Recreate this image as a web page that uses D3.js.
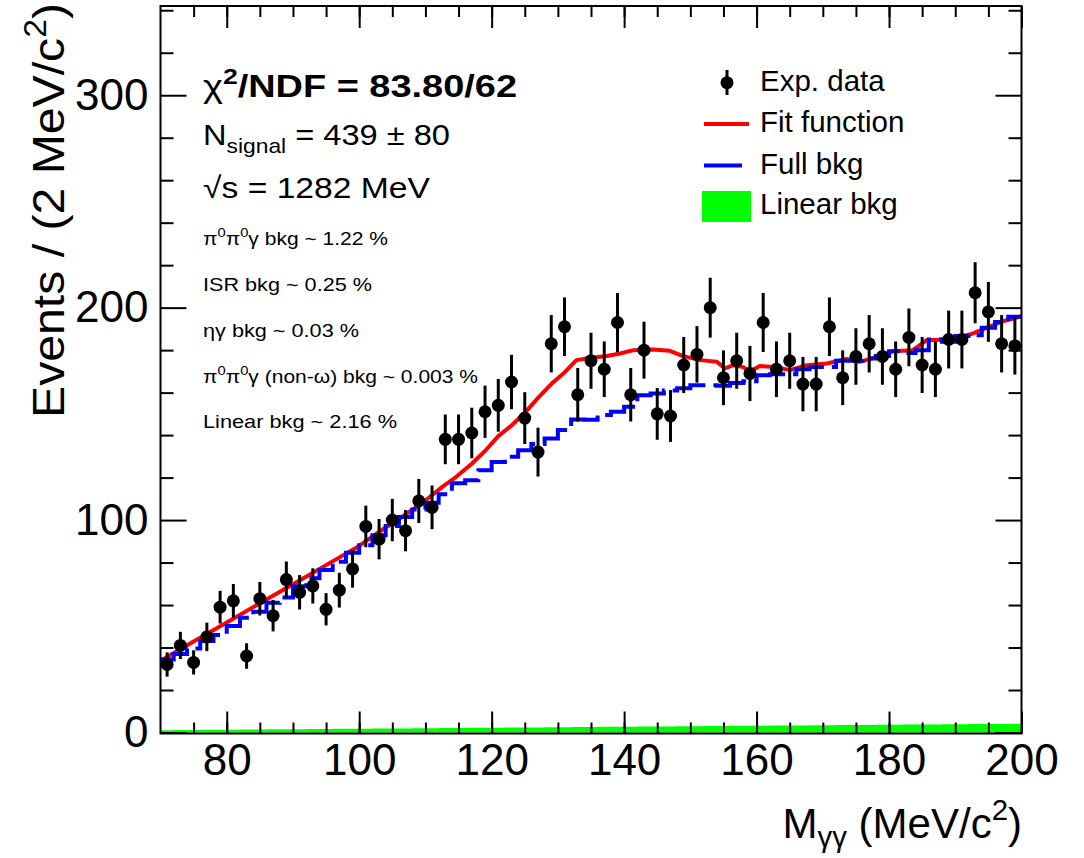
<!DOCTYPE html>
<html><head><meta charset="utf-8">
<script src="https://cdn.jsdelivr.net/npm/d3@7/dist/d3.min.js"></script>
<style>
body{margin:0;background:#fff}
svg{display:block}
text{font-family:"Liberation Sans",Arial,Helvetica,sans-serif;fill:#000}
</style>
</head><body>
<svg id="c" width="1084" height="858"></svg>
<script>
// ---- data (bin centres, 2 MeV bins) ----
const binCenters = [71,73,75,77,79,81,83,85,87,89,91,93,95,97,99,101,103,105,107,109,111,113,115,117,119,121,123,125,127,129,131,133,135,137,139,141,143,145,147,149,151,153,155,157,159,161,163,165,167,169,171,173,175,177,179,181,183,185,187,189,191,193,195,197,199];
const counts = [32,41,33,45,59,62,36,63,55,72,66,69,58,67,77,97,91,100,95,109,106,138,138,141,151,154,165,148,132,183,191,159,175,171,193,159,180,150,149,173,178,200,167,175,169,193,171,175,164,164,191,167,177,183,177,171,186,173,171,185,185,207,198,183,182];
const errors = [5.7,6.4,5.7,6.7,7.7,7.9,6.0,7.9,7.4,8.5,8.1,8.3,7.6,8.2,8.8,9.8,9.5,10.0,9.7,10.4,10.3,11.7,11.7,11.9,12.3,12.4,12.8,12.2,11.5,13.5,13.8,12.6,13.2,13.1,13.9,12.6,13.4,12.2,12.2,13.2,13.3,14.1,12.9,13.2,13.0,13.9,13.1,13.2,12.8,12.8,13.8,12.9,13.3,13.5,13.3,13.1,13.6,13.2,13.1,13.6,13.6,14.4,14.1,13.5,13.5];
const fullBkg = [34.4,36.9,39.6,43.1,45.9,50.1,54.0,56.9,61.1,63.6,68.9,72.6,76.5,80.4,84.6,88.2,92.9,97.2,101.4,105.0,108.2,112.2,117.3,118.8,123.4,127.3,129.8,132.9,135.8,138.4,142.4,147.4,147.2,149.5,151.0,153.3,158.8,159.6,161.0,162.0,163.5,163.5,163.2,164.5,165.4,168.2,168.7,168.7,171.0,172.1,172.1,175.0,175.0,176.1,177.2,179.5,178.7,180.0,185.0,184.0,186.6,187.0,190.5,193.3,195.7];
const linearBkg = [1.10,1.15,1.19,1.24,1.29,1.33,1.38,1.43,1.48,1.52,1.57,1.62,1.66,1.71,1.76,1.80,1.85,1.90,1.94,1.99,2.04,2.08,2.13,2.18,2.23,2.27,2.32,2.37,2.41,2.46,2.51,2.55,2.60,2.65,2.69,2.74,2.79,2.83,2.88,2.93,2.98,3.02,3.07,3.12,3.16,3.21,3.26,3.30,3.35,3.40,3.44,3.49,3.54,3.58,3.63,3.68,3.73,3.77,3.82,3.87,3.91,3.96,4.01,4.05,4.10];
const fitX = [70,75,80,85,90,95,100,103,106,108.7,110.5,112.5,114.7,117,119,121,123,125,127,129,131,132.8,134.8,137.4,139.4,141.4,144.4,146.9,148.9,151.5,154,155.2,156.5,158,159,160.5,162.8,165,167.6,170.6,173.6,175.6,178.6,180.6,183.6,185.7,188.7,190.7,192.7,194.7,197.2,200];
const fitY = [33.8,42.8,51.8,60.8,69.8,78.8,87.8,94.5,100.5,106.3,110.5,115.5,120.5,126.5,132.5,139.5,144.5,150.5,157.5,164,169.5,175.3,176.3,177.2,178.4,180,180.3,179.7,177.2,175.3,174.5,171.4,172.9,172,170,172.5,172.1,170.6,172.9,173.7,175.8,174.5,177.2,179.5,180,184.7,185,186,187.9,190.5,193.6,196];
const binWidth = 2;
const xMajorTicks = [80,100,120,140,160,180,200];
const xMinorTicks = [75,80,85,90,95,100,105,110,115,120,125,130,135,140,145,150,155,160,165,170,175,180,185,190,195];
const yMajorTicks = [0,100,200,300];
const yMinorTicks = [20,40,60,80,120,140,160,180,220,240,260,280,320,340];
const legendLabels = ["Exp. data","Fit function","Full bkg","Linear bkg"];

// ---- layout ----
const L = 160.5, R = 1021.5, T = 6, B = 733.5;
const x = d3.scaleLinear().domain([70,200]).range([L,R]);
const y = d3.scaleLinear().domain([0,342]).range([732.5,T]);
const svg = d3.select("#c");

// helper for rich text
function rich(g, px, py, parts, size, opts={}) {
  const t = g.append("text").attr("x",px).attr("y",py).attr("font-size",size);
  if (opts.weight) t.attr("font-weight",opts.weight);
  if (opts.anchor) t.attr("text-anchor",opts.anchor);
  if (opts.len) t.attr("textLength",opts.len).attr("lengthAdjust","spacingAndGlyphs");
  if (opts.transform) t.attr("transform",opts.transform);
  let shift = 0;
  parts.forEach(p => {
    const s = t.append("tspan").text(p.t);
    let target = 0;
    if (p.sup) { target = -0.42*size; s.attr("font-size", size*0.7); }
    if (p.sub) { target = (opts.subShift||0.28)*size; s.attr("font-size", size*0.7); }
    if (target !== shift) { s.attr("dy", target - shift); shift = target; }
    if (p.weight) s.attr("font-weight", p.weight);
  });
  return t;
}

// green linear background
const edgesX = binCenters.map(c => c - binWidth/2).concat([200]);
const stepVals = (arr) => arr.concat([arr[arr.length-1]]);
const linVals = stepVals(linearBkg);
svg.append("path")
  .attr("d", d3.area().x((d,i)=>x(edgesX[i])).y0(y(0)).y1(d=>y(d)).curve(d3.curveStepAfter)(linVals))
  .attr("fill","#00ff00").attr("stroke","none");

// red fit
svg.append("path")
  .attr("d", d3.line().x((d,i)=>x(fitX[i])).y(d=>y(d))(fitY))
  .attr("fill","none").attr("stroke","#ff0000").attr("stroke-width",4).attr("stroke-linejoin","round");

// blue full bkg (dashed step histogram)
const bkgVals = stepVals(fullBkg);
svg.append("path")
  .attr("d", d3.line().x((d,i)=>x(edgesX[i])).y(d=>y(d)).curve(d3.curveStepAfter)(bkgVals))
  .attr("fill","none").attr("stroke","#0000ff").attr("stroke-width",4).attr("stroke-dasharray","38,8");

// data points
const pts = svg.append("g");
pts.selectAll("line").data(counts).join("line")
  .attr("x1",(d,i)=>x(binCenters[i])).attr("x2",(d,i)=>x(binCenters[i]))
  .attr("y1",(d,i)=>y(d-errors[i])).attr("y2",(d,i)=>y(d+errors[i]))
  .attr("stroke","#000").attr("stroke-width",3);
pts.selectAll("circle").data(counts).join("circle")
  .attr("cx",(d,i)=>x(binCenters[i])).attr("cy",d=>y(d)).attr("r",6.5).attr("fill","#000");

// frame + axes
function styleAxis(g){ g.select(".domain").remove(); g.selectAll(".tick line").attr("stroke","#000").attr("stroke-width",2); }
svg.append("g").attr("transform",`translate(0,${B})`)
  .call(d3.axisBottom(x).tickValues(xMinorTicks).tickSize(-11).tickFormat(""))
  .call(styleAxis);
svg.append("g").attr("transform",`translate(0,${T})`)
  .call(d3.axisTop(x).tickValues(xMinorTicks).tickSize(-11).tickFormat(""))
  .call(styleAxis);
svg.append("g").attr("transform",`translate(0,${T})`)
  .call(d3.axisTop(x).tickValues(xMajorTicks).tickSize(-22).tickFormat(""))
  .call(styleAxis);
const xb = svg.append("g").attr("transform",`translate(0,${B})`)
  .call(d3.axisBottom(x).tickValues(xMajorTicks).tickSize(-22).tickPadding(10).tickFormat(d3.format("d")))
  .call(styleAxis);
xb.selectAll("text").attr("font-size",44).attr("font-family",null);

svg.append("g").attr("transform",`translate(${L},0)`)
  .call(d3.axisLeft(y).tickValues(yMinorTicks).tickSize(-13).tickFormat(""))
  .call(styleAxis);
svg.append("g").attr("transform",`translate(${R},0)`)
  .call(d3.axisRight(y).tickValues(yMinorTicks).tickSize(-13).tickFormat(""))
  .call(styleAxis);
svg.append("g").attr("transform",`translate(${R},0)`)
  .call(d3.axisRight(y).tickValues(yMajorTicks).tickSize(-26).tickFormat(""))
  .call(styleAxis);
const yl = svg.append("g").attr("transform",`translate(${L},0)`)
  .call(d3.axisLeft(y).tickValues(yMajorTicks).tickSize(-26).tickPadding(12).tickFormat(d3.format("d")))
  .call(styleAxis);
yl.selectAll("text").attr("font-size",44).attr("font-family",null);

svg.append("rect").attr("x",L).attr("y",T).attr("width",R-L).attr("height",B-T)
  .attr("fill","none").attr("stroke","#000").attr("stroke-width",2);

// axis titles
rich(svg, 0, 0, [{t:"Events / (2 MeV/c"},{t:"2",sup:true},{t:")"}], 44,
  {anchor:"end", len:415, transform:"translate(64,3) rotate(-90)"});
rich(svg, 1022, 838, [{t:"M"},{t:"γγ",sub:true},{t:" (MeV/c"},{t:"2",sup:true},{t:")"}], 42,
  {anchor:"end", subShift:0.22});

// annotations
const ann = svg.append("g");
rich(ann, 203, 97, [{t:"χ",weight:"normal"},{t:"2",sup:true},{t:"/NDF = 83.80/62"}], 32, {weight:"bold", len:314});
rich(ann, 203, 144.5, [{t:"N"},{t:"signal",sub:true},{t:" = 439 ± 80"}], 30, {len:247});
rich(ann, 203, 198, [{t:"√s = 1282 MeV"}], 30, {len:227});
rich(ann, 203, 245, [{t:"π"},{t:"0",sup:true},{t:"π"},{t:"0",sup:true},{t:"γ bkg ~ 1.22 %"}], 19, {len:185});
rich(ann, 203, 291, [{t:"ISR bkg ~ 0.25 %"}], 19, {len:169});
rich(ann, 203, 337, [{t:"ηγ bkg ~ 0.03 %"}], 19, {len:156});
rich(ann, 203, 382.5, [{t:"π"},{t:"0",sup:true},{t:"π"},{t:"0",sup:true},{t:"γ (non-ω) bkg ~ 0.003 %"}], 19, {len:275});
rich(ann, 203, 428, [{t:"Linear bkg ~ 2.16 %"}], 19, {len:194});

// legend
const lg = svg.append("g");
const rowY = [90.7,131.7,174,214];
lg.append("line").attr("x1",727).attr("x2",727).attr("y1",70).attr("y2",95).attr("stroke","#000").attr("stroke-width",3);
lg.append("circle").attr("cx",727).attr("cy",82.7).attr("r",6.5).attr("fill","#000");
lg.append("line").attr("x1",704).attr("x2",749).attr("y1",124).attr("y2",124).attr("stroke","#ff0000").attr("stroke-width",4);
lg.append("line").attr("x1",704).attr("x2",749).attr("y1",165.5).attr("y2",165.5).attr("stroke","#0000ff").attr("stroke-width",4).attr("stroke-dasharray","38,8");
lg.append("rect").attr("x",702).attr("y",191).attr("width",49).attr("height",31).attr("fill","#00ff00");
legendLabels.forEach((s,i)=>{
  lg.append("text").attr("x",760).attr("y",rowY[i]).attr("font-size",29.5).text(s);
});
</script>
</body></html>
